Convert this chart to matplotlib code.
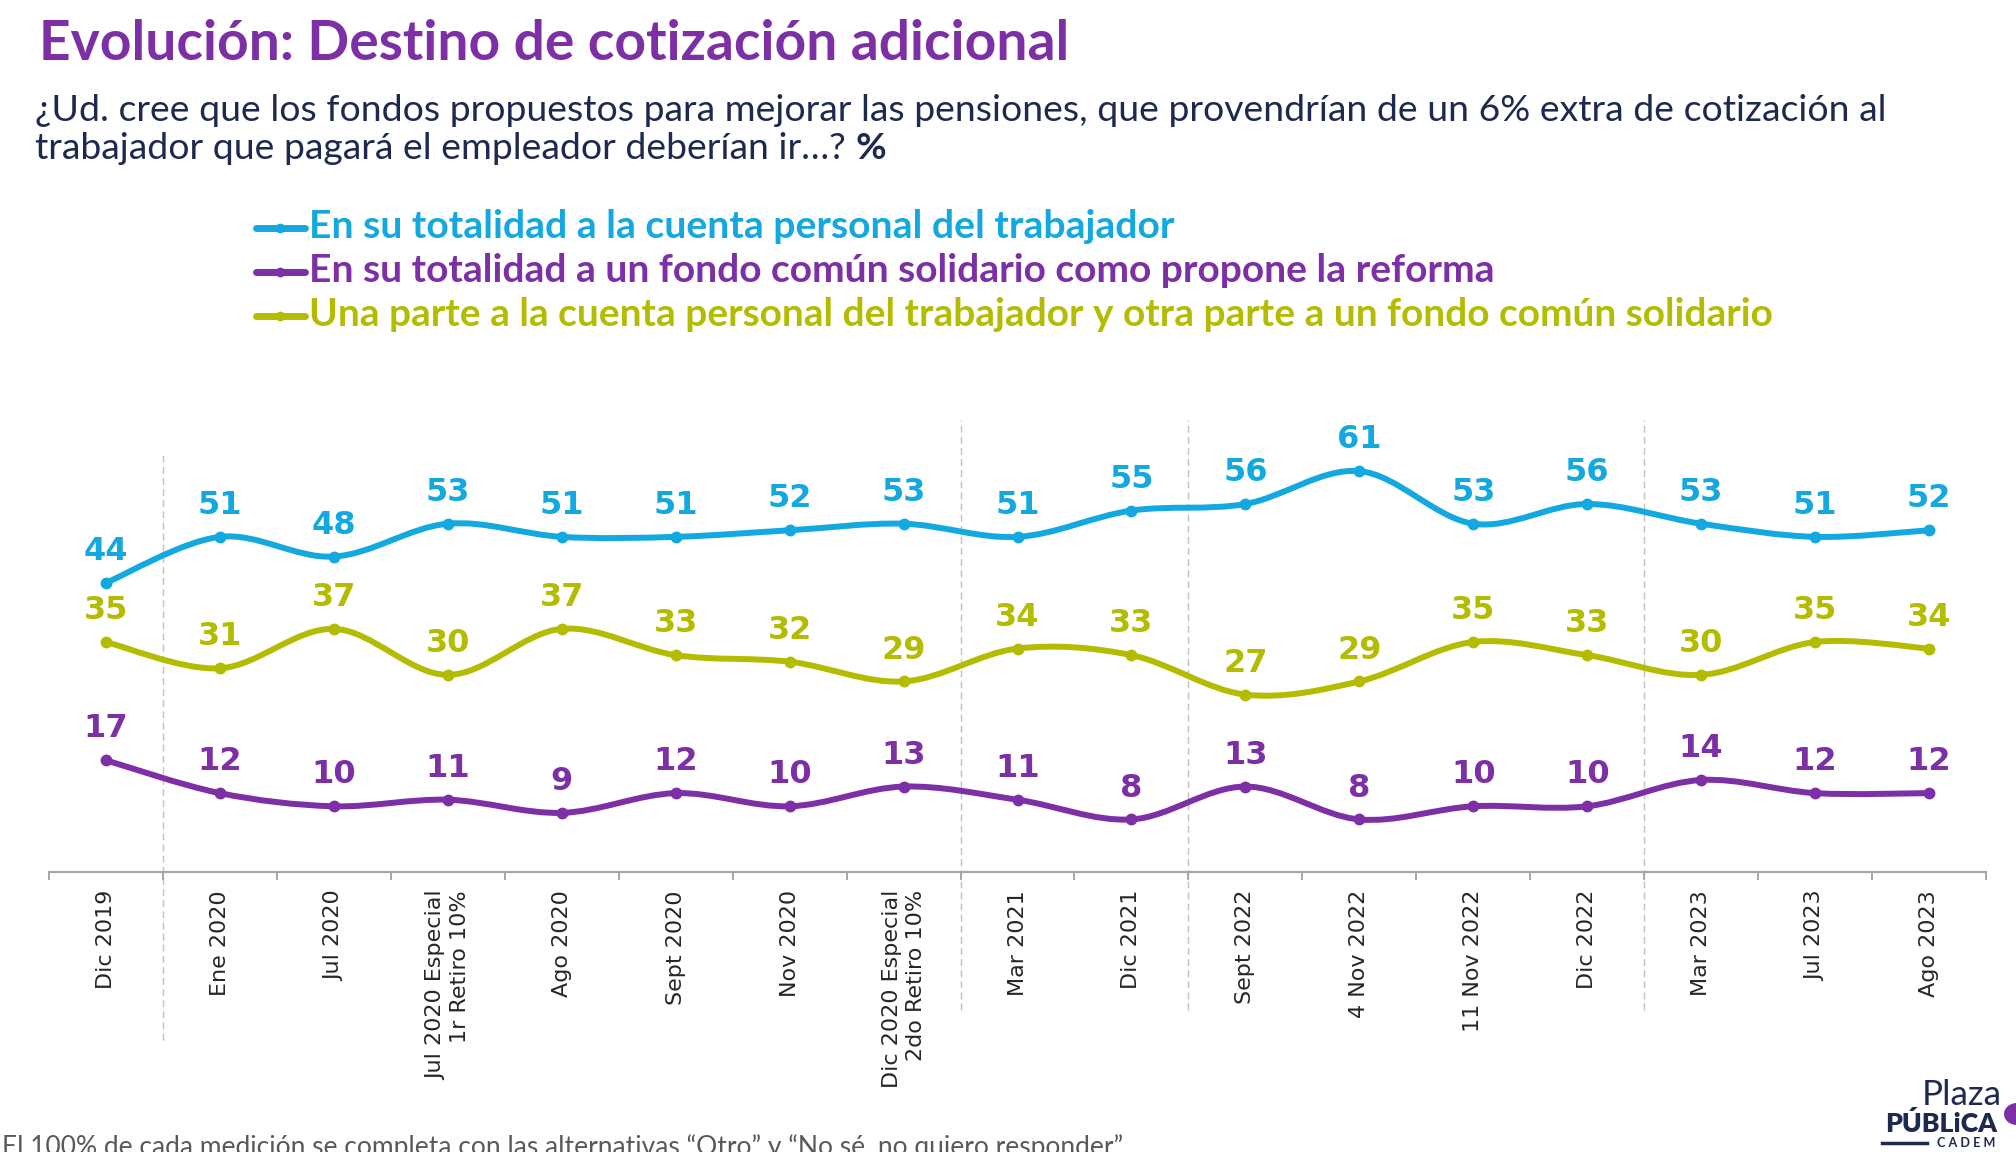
import matplotlib
matplotlib.use("Agg")
import matplotlib.pyplot as plt
import numpy as np
from matplotlib.path import Path
from matplotlib.patches import PathPatch, Ellipse
from matplotlib.lines import Line2D

# ---------------- data ----------------
categories = [
    "Dic 2019", "Ene 2020", "Jul 2020", "Jul 2020 Especial\n1r Retiro 10%",
    "Ago 2020", "Sept 2020", "Nov 2020", "Dic 2020 Especial\n2do Retiro 10%",
    "Mar 2021", "Dic 2021", "Sept 2022", "4 Nov 2022", "11 Nov 2022",
    "Dic 2022", "Mar 2023", "Jul 2023", "Ago 2023",
]
series_names = [
    "En su totalidad a la cuenta personal del trabajador",
    "En su totalidad a un fondo común solidario como propone la reforma",
    "Una parte a la cuenta personal del trabajador y otra parte a un fondo común solidario",
]
cuenta_personal = [44, 51, 48, 53, 51, 51, 52, 53, 51, 55, 56, 61, 53, 56, 53, 51, 52]
fondo_comun = [17, 12, 10, 11, 9, 12, 10, 13, 11, 8, 13, 8, 10, 10, 14, 12, 12]
mixto = [35, 31, 37, 30, 37, 33, 32, 29, 34, 33, 27, 29, 35, 33, 30, 35, 34]
separator_after = [0, 7, 9, 13]   # dashed separator drawn after these category indices

title = "Evolución: Destino de cotización adicional"
subtitle_1 = ("¿Ud. cree que los fondos propuestos para mejorar las pensiones, que provendrían "
              "de un 6% extra de cotización al")
subtitle_2 = "trabajador que pagará el empleador deberían ir…? "
subtitle_2_bold = "%"
footnote = ("El 100% de cada medición se completa con las alternativas \u201cOtro\u201d y "
            "\u201cNo sé, no quiero responder\u201d")

BLUE = "#13A8E0"
PURPLE = "#7D2FA5"
OLIVE = "#B3BC00"
NAVY = "#1E2A4D"
colors = [BLUE, PURPLE, OLIVE]
values = [cuenta_personal, fondo_comun, mixto]

# ---------------- figure ----------------
W, H = 2016, 1152
DPI = 100
fig = plt.figure(figsize=(W / DPI, H / DPI), dpi=DPI)
renderer = fig.canvas.get_renderer()


def fit_text(x_px, y_px, s, target_w, **kw):
    t = fig.text(x_px / W, 1 - y_px / H, s, **kw)
    for _ in range(4):
        bb = t.get_window_extent(renderer=renderer)
        t.set_fontsize(t.get_fontsize() * target_w / bb.width)
    return t


# title & subtitle
fit_text(39, 60, title, 1031, family="Lato", fontweight="bold", color=PURPLE,
         va="baseline", fontsize=30)
t1 = fit_text(35, 121, subtitle_1, 1851, family="Lato", color=NAVY,
              va="baseline", fontsize=20)
t2 = fig.text(35 / W, 1 - 159 / H, subtitle_2, family="Lato", color=NAVY,
              va="baseline", fontsize=t1.get_fontsize())
bb2 = t2.get_window_extent(renderer=renderer)
fig.text(bb2.x1 / W, 1 - 159 / H, subtitle_2_bold, family="Lato", fontweight="bold",
         color=NAVY, va="baseline", fontsize=t1.get_fontsize())

# legend (manual)
leg_y = [228, 272, 316]
leg_w = [865, 1185, 1467]
for name, c, y, w in zip(series_names, colors, leg_y, leg_w):
    fig.add_artist(Line2D([256 / W, 305 / W], [1 - y / H] * 2, lw=5, color=c,
                          solid_capstyle="round"))
    fig.add_artist(Line2D([280 / W], [1 - y / H], marker="o", ms=6, color=c))
    fit_text(309, y + 10, name, w, family="Lato", fontweight="bold", color=c,
             va="baseline", fontsize=20)

# ---------------- axes ----------------
ax = fig.add_axes([49 / W, (H - 872) / H, (1986 - 49) / W, 460 / H])
n = len(categories)
ax.set_xlim(-0.5, n - 0.5)
ax.set_ylim(0, 70)
for s in ["top", "right", "left"]:
    ax.spines[s].set_visible(False)
ax.spines["bottom"].set_color("#A6A6A6")
ax.spines["bottom"].set_linewidth(1.6)
ax.set_yticks([])
ax.set_xticks(range(n))
ax.set_xticklabels(categories, rotation=90, fontsize=16, color="#262626",
                   linespacing=1.25, ha="center", va="top", multialignment="right",
                   family="DejaVu Sans")
ax.tick_params(axis="x", which="major", length=0, pad=13)
ax.set_xticks(np.arange(-0.5, n, 1.0), minor=True)
ax.tick_params(axis="x", which="minor", length=6, width=1.4, color="#A6A6A6",
               direction="out")

# dashed separators
xt = ax.get_xaxis_transform()
for k, idx in enumerate(separator_after):
    top, bot = (0.913, -0.365) if k == 0 else (0.983, -0.30)
    ax.plot([idx + 0.5] * 2, [bot, top], transform=xt, clip_on=False,
            color="#BFBFBF", lw=1.0, ls=(0, (5, 3)), zorder=0)


def smooth_path(xs, ys, t=1 / 6):
    pts = np.column_stack([xs, ys]).astype(float)
    m = len(pts)
    verts = [pts[0]]
    codes = [Path.MOVETO]
    for i in range(m - 1):
        p0 = pts[i - 1] if i > 0 else pts[i]
        p1, p2 = pts[i], pts[i + 1]
        p3 = pts[i + 2] if i + 2 < m else pts[i + 1]
        verts += [p1 + (p2 - p0) * t, p2 - (p3 - p1) * t, p2]
        codes += [Path.CURVE4] * 3
    return Path(verts, codes)


x = np.arange(n)
for vals, c in zip(values, colors):
    ax.add_patch(PathPatch(smooth_path(x, vals), facecolor="none", edgecolor=c,
                           lw=4.3, capstyle="round", joinstyle="round", zorder=2))
    ax.plot(x, vals, "o", ms=7.5, color=c, zorder=3)
    for xi, v in zip(x, vals):
        ax.annotate(str(v), (xi, v), xytext=(0, 16.5), textcoords="offset points",
                    ha="center", va="baseline", fontsize=23, fontweight="bold",
                    color=c, family="DejaVu Sans", annotation_clip=False)

# footnote (partly cut off at the bottom edge, as in the original slide)
fit_text(2, 1139 + 16, footnote, 1120, family="Lato", color="#595959",
         va="baseline", fontsize=18)

# logo
fit_text(1922, 1105, "Plaza", 80, family="Lato", fontweight="normal", color=NAVY,
         va="baseline", fontsize=20)
fit_text(1885, 1132, "PÚBLiCA", 112, family="Lato", fontweight="heavy", color=NAVY,
         va="baseline", fontsize=20)
fit_text(1937, 1147, "C A D E M", 58, family="Lato", fontweight="bold", color=NAVY,
         va="baseline", fontsize=12)
fig.add_artist(Line2D([1882 / W, 1927 / W], [1 - 1143 / H] * 2, lw=2.5, color=NAVY))
fig.add_artist(Ellipse((2017 / W, 1 - 1114 / H), 26 / W, 22 / H, facecolor=PURPLE,
                       edgecolor="none"))

fig.savefig("out.png", dpi=DPI)
